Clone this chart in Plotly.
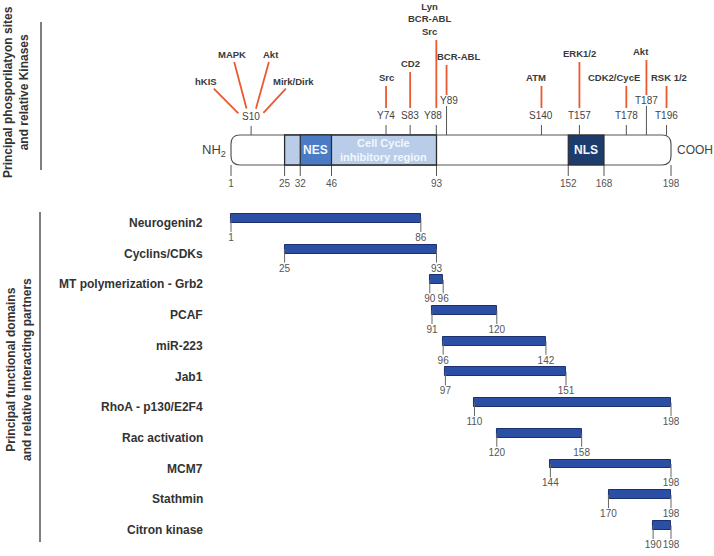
import plotly.graph_objects as go

# ---------------- data ----------------
PROT_START, PROT_END = 1, 198
REGION_START, REGION_END = 25, 93          # light-blue region
DOMAIN_NAMES = ["NES", "Cell Cycle<br>inhibitory region", "NLS"]
DOMAIN_START = [32, 46, 152]
DOMAIN_END = [46, 93, 168]
AXIS_MARKS = [1, 25, 32, 46, 93, 152, 168, 198]

SITE_NAMES = ["S10", "Y74", "S83", "Y88", "Y89", "S140", "T157", "T178", "T187", "T196"]
SITE_POS = [10, 74, 83, 88, 89, 140, 157, 178, 187, 196]
SITE_KINASES = [["hKIS", "MAPK", "Akt", "Mirk/Dirk"], ["Src"], ["CD2"], ["Lyn", "BCR-ABL", "Src"],
                ["BCR-ABL"], ["ATM"], ["ERK1/2"], ["CDK2/CycE"], ["Akt"], ["RSK 1/2"]]

PARTNERS = ["Neurogenin2", "Cyclins/CDKs", "MT polymerization - Grb2", "PCAF", "miR-223", "Jab1",
            "RhoA - p130/E2F4", "Rac activation", "MCM7", "Stathmin", "Citron kinase"]
P_START = [1, 25, 90, 91, 96, 97, 110, 120, 144, 170, 190]
P_END = [86, 93, 96, 120, 142, 151, 198, 158, 198, 198, 198]

# ---------------- layout / style ----------------
W, H = 714, 556
FONT = "Liberation Sans, Arial, sans-serif"
PX1, PX198 = 231, 671
SCALE = (PX198 - PX1) / (PROT_END - PROT_START)
XR = [-12, 208]
x_dom = [(PX1 + (XR[0] - 1) * SCALE) / W, (PX1 + (XR[1] - 1) * SCALE) / W]

TOP_PX = 195
ROW_PX0, ROW_STEP = 223, 30.7
y_top_off = (ROW_PX0 - TOP_PX) / ROW_STEP
y_range = [(H - TOP_PX) / ROW_STEP - y_top_off, -y_top_off]

BAR_TOP, BAR_BOT = 135, 165
RED = "#ea5a30"
GREY = "#555555"
BLUE = "#2c4fa6"

# per-site layout: (label level y, red-line top, tick shift px, label shift px, kinase shift px)
SITE_LAYOUT = {
    "S10": (116, None, 0, 0, 0),
    "Y74": (115, 86, -8, -8, -8),
    "S83": (115, 72, -4, -4, -4),
    "Y88": (115, 40, 11, 8, 4),
    "Y89": (100, 65, 19, 21, 31),
    "S140": (115, 86, 0, 0, -5),
    "T157": (115, 62, 0, 0, 0),
    "T178": (115, 86, 0, 0, -12),
    "T187": (100, 60, 0, 0, -5),
    "T196": (115, 86, 0, 0, 2),
}
FAN_OFFSETS = [(-45, -45), (-19, -72), (20, -72), (42, -45)]

fig = go.Figure()

# ---- bottom: partner bars ----
rows = list(range(len(PARTNERS)))
fig.add_trace(go.Bar(
    orientation="h", y=rows, base=P_START,
    x=[e - s for s, e in zip(P_START, P_END)],
    width=0.29, offset=-0.295,
    marker=dict(color=BLUE, line=dict(color="#1c2f6e", width=1)),
    hoverinfo="skip", xaxis="x", yaxis="y"))

tx, ty = [], []
for r, s, e in zip(rows, P_START, P_END):
    for v in (s, e):
        tx += [v, v, None]
        ty += [r - 0.15, r + 0.29, None]
fig.add_trace(go.Scatter(x=tx, y=ty, mode="lines", line=dict(color="#666666", width=1),
                         hoverinfo="skip", xaxis="x", yaxis="y"))

lx, ly, lt = [], [], []
for r, s, e in zip(rows, P_START, P_END):
    for v in (s, e):
        lx.append(v); ly.append(r + 0.5); lt.append(str(v))
fig.add_trace(go.Scatter(x=lx, y=ly, text=lt, mode="text", cliponaxis=False,
                         textfont=dict(family=FONT, size=10, color=GREY),
                         hoverinfo="skip", xaxis="x", yaxis="y"))

annotations = []
for r, name in zip(rows, PARTNERS):
    annotations.append(dict(x=205 / W, xref="paper", y=r, yref="y", xanchor="right",
                            text=f"<b>{name}</b>", showarrow=False,
                            font=dict(family=FONT, size=12, color="#333333")))

# ---- top: protein schematic ----
shapes = []
x0, x1, rx, ry = PROT_START, PROT_END, 4.0, 9.0
path = (f"M {x0 + rx},{BAR_TOP} L {x1 - rx},{BAR_TOP} Q {x1},{BAR_TOP} {x1},{BAR_TOP + ry} "
        f"L {x1},{BAR_BOT - ry} Q {x1},{BAR_BOT} {x1 - rx},{BAR_BOT} L {x0 + rx},{BAR_BOT} "
        f"Q {x0},{BAR_BOT} {x0},{BAR_BOT - ry} L {x0},{BAR_TOP + ry} Q {x0},{BAR_TOP} {x0 + rx},{BAR_TOP} Z")
shapes.append(dict(type="path", path=path, xref="x", yref="y2", fillcolor="white",
                   line=dict(color=GREY, width=1.2)))
shapes.append(dict(type="rect", xref="x", yref="y2", x0=REGION_START, x1=REGION_END,
                   y0=BAR_TOP, y1=BAR_BOT, fillcolor="#b9cde9", line=dict(color="#2b2b2b", width=1.3)))
dom_fill = ["#4a7bc4", None, "#1d3c6c"]
for n, s, e, f in zip(DOMAIN_NAMES, DOMAIN_START, DOMAIN_END, dom_fill):
    if f is not None:
        shapes.append(dict(type="rect", xref="x", yref="y2", x0=s, x1=e, y0=BAR_TOP, y1=BAR_BOT,
                           fillcolor=f, line=dict(color="#2b2b2b", width=1.2)))
    fs = 11 if "<br>" in n else 12
    annotations.append(dict(x=(s + e) / 2, y=(BAR_TOP + BAR_BOT) / 2, xref="x", yref="y2",
                            text=f"<b>{n}</b>", showarrow=False,
                            font=dict(family=FONT, size=fs, color="#f4f7fc")))

annotations.append(dict(x=PROT_START, y=(BAR_TOP + BAR_BOT) / 2, xref="x", yref="y2", xanchor="right",
                        xshift=-3, text="NH<sub>2</sub>", showarrow=False,
                        font=dict(family=FONT, size=13, color="#444444")))
annotations.append(dict(x=PROT_END, y=(BAR_TOP + BAR_BOT) / 2, xref="x", yref="y2", xanchor="left",
                        xshift=4, text="COOH", showarrow=False,
                        font=dict(family=FONT, size=12, color="#444444")))

# protein position ticks
ax_x, ax_y = [], []
for m in AXIS_MARKS:
    ax_x += [m, m, None]
    ax_y += [BAR_BOT, BAR_BOT + 11, None]
fig.add_trace(go.Scatter(x=ax_x, y=ax_y, mode="lines", line=dict(color=GREY, width=1),
                         hoverinfo="skip", xaxis="x", yaxis="y2"))
fig.add_trace(go.Scatter(x=AXIS_MARKS, y=[184] * len(AXIS_MARKS), text=[str(m) for m in AXIS_MARKS],
                         mode="text", cliponaxis=False,
                         textfont=dict(family=FONT, size=10, color=GREY),
                         hoverinfo="skip", xaxis="x", yaxis="y2"))

# phosphorylation sites
for name, pos, kin in zip(SITE_NAMES, SITE_POS, SITE_KINASES):
    ly_, red_top, tshift, lshift, kshift = SITE_LAYOUT[name]
    low = ly_ >= 110
    tick_top = ly_ + 10 if low else ly_ + 6
    shapes.append(dict(type="line", xref="x", yref="y2", xsizemode="pixel", xanchor=pos,
                       x0=tshift, x1=tshift, y0=tick_top, y1=BAR_TOP,
                       line=dict(color=GREY, width=1)))
    annotations.append(dict(x=pos, y=ly_, xref="x", yref="y2", xshift=lshift, text=name,
                            showarrow=False, font=dict(family=FONT, size=10, color="#444444")))
    if name == "S10":
        for k, (axo, ayo) in zip(kin, FAN_OFFSETS):
            annotations.append(dict(x=pos, y=tick_top, xref="x", yref="y2", text=f"<b>{k}</b>",
                                    showarrow=True, arrowhead=0, arrowwidth=1.8, arrowcolor=RED,
                                    ax=axo, ay=ayo, standoff=18, startstandoff=1,
                                    font=dict(family=FONT, size=9.5, color="#3a3a3a")))
        continue
    red_bot = ly_ - 7 if low else ly_ - 5
    shapes.append(dict(type="line", xref="x", yref="y2", xsizemode="pixel", xanchor=pos,
                       x0=tshift, x1=tshift, y0=red_top, y1=red_bot,
                       line=dict(color=RED, width=1.8)))
    annotations.append(dict(x=pos, y=red_top - 1, xref="x", yref="y2", xshift=kshift,
                            yanchor="bottom", text="<b>" + "<br>".join(kin) + "</b>",
                            showarrow=False,
                            font=dict(family=FONT, size=9.5, color="#3a3a3a")))

# left titles
annotations.append(dict(x=16 / W, y=1 - 92 / H, xref="paper", yref="paper", textangle=-90,
                        xanchor="center", yanchor="middle",
                        text="<b>Principal phosporilatyon sites<br>and relative Kinases</b>",
                        showarrow=False, font=dict(family=FONT, size=12, color="#333333")))
annotations.append(dict(x=19 / W, y=1 - 370 / H, xref="paper", yref="paper", textangle=-90,
                        xanchor="center", yanchor="middle",
                        text="<b>Principal functional domains<br>and relative interacting partners</b>",
                        showarrow=False, font=dict(family=FONT, size=12, color="#333333")))
shapes.append(dict(type="line", xref="paper", yref="paper", x0=41 / W, x1=41 / W,
                   y0=1 - 22 / H, y1=1 - 170 / H, line=dict(color=GREY, width=1.5)))
shapes.append(dict(type="line", xref="paper", yref="paper", x0=40 / W, x1=40 / W,
                   y0=1 - 212 / H, y1=1 - 542 / H, line=dict(color=GREY, width=1.5)))

fig.update_layout(
    width=W, height=H, margin=dict(l=0, r=0, t=0, b=0, autoexpand=False),
    paper_bgcolor="white", plot_bgcolor="white", showlegend=False,
    xaxis=dict(domain=x_dom, range=XR, visible=False, fixedrange=True),
    yaxis=dict(domain=[0, 1 - TOP_PX / H], range=y_range, visible=False),
    yaxis2=dict(domain=[1 - TOP_PX / H, 1], range=[TOP_PX, 0], visible=False, anchor="x"),
    shapes=shapes, annotations=annotations, bargap=0,
)

fig.write_html("out.html", config={"displayModeBar": False},
               post_script="document.body.style.margin='0px';document.body.style.overflow='hidden';")
